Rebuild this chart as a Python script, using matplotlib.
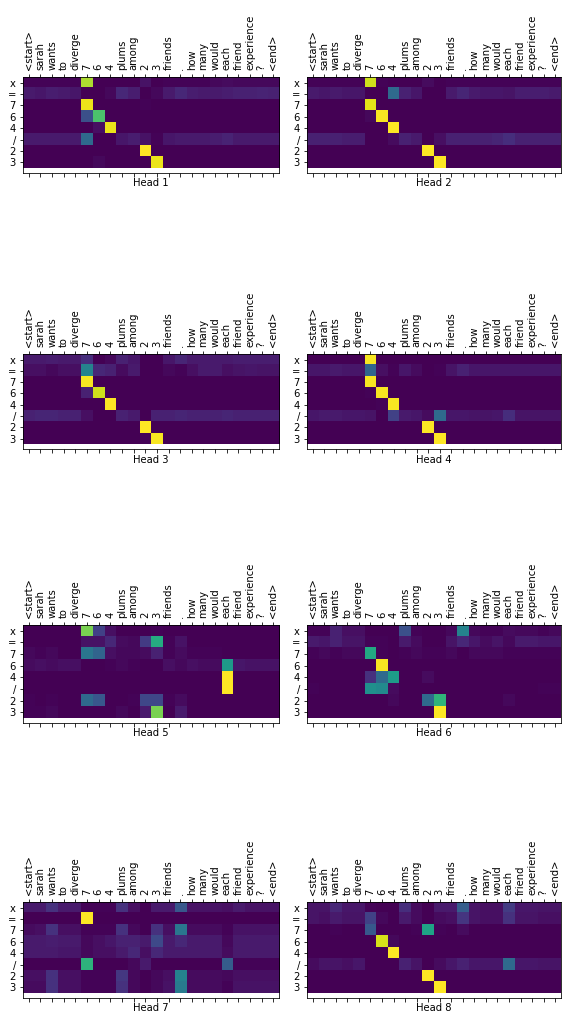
import numpy as np
import matplotlib
matplotlib.use("Agg")
import matplotlib.pyplot as plt

# input tokens (columns) and predicted tokens (rows)
sentence = ['<start>', 'sarah', 'wants', 'to', 'diverge', '7', '6', '4', 'plums', 'among',
            '2', '3', 'friends', '.', 'how', 'many', 'would', 'each', 'friend',
            'experience', '?', '<end>']
predicted = ['x', '=', '7', '6', '4', '/', '2', '3']

# attention weights per head, in percent (rows = predicted, cols = sentence)
head1 = [
    [2, 2, 2, 2, 2, 88, 1, 1, 1, 1, 6, 1, 2, 2, 2, 2, 3, 4, 3, 3, 3, 3],
    [8, 7, 9, 8, 7, 1, 1, 3, 12, 9, 1, 3, 8, 12, 9, 8, 8, 9, 10, 10, 11, 10],
    [1, 1, 1, 1, 1, 97, 1, 1, 1, 1, 2, 1, 1, 1, 1, 1, 1, 1, 1, 1, 1, 1],
    [1, 1, 1, 1, 1, 25, 72, 1, 1, 1, 1, 1, 1, 1, 1, 1, 1, 1, 1, 1, 1, 1],
    [1, 1, 1, 1, 1, 1, 5, 97, 1, 1, 1, 1, 1, 1, 1, 1, 1, 1, 1, 1, 1, 1],
    [8, 8, 8, 8, 8, 35, 1, 1, 7, 9, 6, 2, 7, 8, 8, 8, 9, 11, 8, 8, 8, 8],
    [1, 1, 1, 1, 1, 1, 1, 1, 1, 1, 100, 1, 1, 1, 1, 1, 1, 1, 1, 1, 1, 1],
    [1, 1, 1, 1, 1, 1, 3, 1, 1, 1, 1, 97, 1, 1, 1, 1, 1, 1, 1, 1, 1, 1],
]
head2 = [
    [2, 2, 2, 2, 2, 92, 2, 1, 1, 1, 4, 1, 2, 2, 2, 2, 2, 2, 2, 2, 2, 2],
    [8, 7, 8, 7, 7, 1, 1, 35, 10, 7, 1, 1, 8, 11, 8, 7, 7, 6, 9, 9, 9, 8],
    [1, 1, 1, 1, 1, 95, 1, 1, 1, 1, 1, 1, 1, 1, 1, 1, 1, 1, 1, 1, 1, 1],
    [1, 1, 1, 1, 1, 3, 98, 1, 1, 1, 1, 1, 1, 1, 1, 1, 1, 1, 1, 1, 1, 1],
    [1, 1, 1, 1, 1, 1, 1, 99, 1, 1, 1, 1, 1, 1, 1, 1, 1, 1, 1, 1, 1, 1],
    [10, 10, 10, 9, 9, 1, 1, 4, 10, 8, 1, 5, 10, 10, 10, 10, 11, 14, 10, 10, 10, 10],
    [1, 1, 1, 1, 1, 1, 1, 1, 1, 1, 99, 1, 1, 1, 1, 1, 1, 1, 1, 1, 1, 1],
    [1, 1, 1, 1, 1, 1, 1, 1, 1, 1, 1, 99, 1, 1, 1, 1, 1, 1, 1, 1, 1, 1],
]
head3 = [
    [8, 8, 9, 8, 8, 14, 1, 3, 10, 7, 1, 1, 7, 11, 8, 8, 8, 8, 9, 9, 9, 9],
    [5, 5, 3, 5, 5, 45, 12, 10, 4, 8, 1, 1, 3, 2, 5, 8, 8, 5, 6, 7, 6, 6],
    [1, 1, 1, 1, 1, 98, 1, 1, 1, 1, 1, 1, 1, 1, 1, 1, 1, 1, 1, 1, 1, 1],
    [1, 1, 1, 1, 1, 10, 92, 1, 1, 1, 1, 1, 1, 1, 1, 1, 1, 1, 1, 1, 1, 1],
    [1, 1, 1, 1, 1, 1, 1, 99, 1, 1, 1, 1, 1, 1, 1, 1, 1, 1, 1, 1, 1, 1],
    [10, 11, 11, 10, 10, 5, 1, 1, 10, 8, 1, 10, 10, 11, 10, 10, 10, 11, 10, 10, 10, 10],
    [1, 1, 1, 1, 1, 1, 1, 1, 1, 1, 99, 1, 1, 1, 1, 1, 1, 1, 1, 1, 1, 1],
    [1, 1, 1, 1, 1, 1, 1, 1, 1, 1, 2, 98, 1, 1, 1, 1, 1, 1, 1, 1, 1, 1],
]
head4 = [
    [1, 1, 1, 1, 1, 98, 1, 1, 1, 1, 1, 1, 1, 1, 1, 1, 1, 1, 1, 1, 1, 1],
    [7, 7, 8, 7, 7, 33, 5, 2, 7, 4, 1, 2, 6, 10, 7, 7, 7, 7, 7, 7, 7, 7],
    [1, 1, 1, 1, 1, 98, 1, 1, 1, 1, 1, 1, 1, 1, 1, 1, 1, 1, 1, 1, 1, 1],
    [1, 1, 1, 1, 1, 2, 98, 1, 1, 1, 1, 1, 1, 1, 1, 1, 1, 1, 1, 1, 1, 1],
    [1, 1, 1, 1, 1, 1, 2, 98, 1, 1, 1, 1, 1, 1, 1, 1, 1, 1, 1, 1, 1, 1],
    [7, 8, 8, 7, 7, 6, 1, 20, 8, 7, 4, 35, 7, 7, 6, 6, 7, 14, 6, 6, 6, 6],
    [1, 1, 1, 1, 1, 1, 1, 1, 1, 1, 99, 1, 1, 1, 1, 1, 1, 1, 1, 1, 1, 1],
    [1, 1, 1, 1, 1, 1, 1, 1, 1, 1, 1, 99, 1, 1, 1, 1, 1, 1, 1, 1, 1, 1],
]
head5 = [
    [1, 1, 1, 1, 1, 80, 20, 5, 1, 1, 1, 2, 1, 1, 1, 1, 1, 1, 1, 1, 1, 1],
    [1, 1, 1, 1, 1, 6, 6, 12, 4, 3, 18, 62, 2, 6, 1, 1, 1, 1, 1, 1, 1, 1],
    [3, 2, 3, 1, 1, 40, 33, 5, 3, 3, 4, 10, 2, 4, 2, 2, 2, 1, 1, 1, 1, 1],
    [4, 5, 4, 5, 5, 1, 1, 2, 3, 2, 1, 1, 5, 3, 5, 4, 4, 55, 7, 6, 6, 6],
    [1, 1, 1, 1, 1, 1, 1, 1, 1, 1, 1, 1, 1, 1, 1, 1, 1, 100, 1, 1, 1, 1],
    [1, 1, 1, 1, 1, 1, 1, 1, 1, 1, 1, 1, 1, 1, 1, 1, 1, 100, 1, 1, 1, 1],
    [2, 1, 2, 1, 1, 35, 28, 1, 1, 2, 22, 22, 2, 4, 1, 1, 1, 1, 1, 1, 1, 1],
    [2, 2, 3, 1, 1, 1, 1, 1, 3, 1, 8, 80, 1, 8, 1, 1, 1, 1, 1, 1, 1, 1],
]
head6 = [
    [2, 2, 10, 5, 5, 1, 1, 1, 25, 2, 1, 1, 3, 45, 3, 2, 2, 4, 3, 3, 2, 3],
    [8, 7, 10, 6, 6, 2, 2, 1, 8, 4, 1, 1, 6, 12, 7, 4, 6, 3, 8, 8, 7, 7],
    [2, 3, 2, 3, 3, 60, 2, 1, 2, 3, 2, 2, 3, 1, 3, 3, 3, 2, 2, 2, 2, 2],
    [1, 1, 1, 1, 1, 1, 98, 1, 1, 1, 1, 1, 1, 1, 1, 1, 1, 1, 1, 1, 1, 1],
    [1, 1, 1, 1, 1, 15, 35, 55, 1, 1, 4, 1, 1, 1, 1, 1, 1, 1, 1, 1, 1, 1],
    [2, 1, 1, 1, 1, 50, 48, 4, 1, 1, 1, 1, 1, 1, 1, 1, 1, 1, 1, 1, 2, 2],
    [1, 1, 1, 1, 1, 1, 1, 3, 1, 1, 35, 65, 1, 1, 1, 1, 1, 3, 1, 1, 1, 1],
    [1, 1, 1, 1, 1, 1, 1, 1, 1, 1, 1, 99, 1, 1, 1, 1, 1, 1, 1, 1, 1, 1],
]
head7 = [
    [8, 8, 15, 8, 8, 2, 2, 2, 15, 5, 1, 8, 8, 28, 6, 6, 6, 5, 8, 6, 6, 6],
    [1, 1, 1, 1, 1, 100, 1, 1, 1, 1, 1, 1, 1, 1, 1, 1, 1, 1, 1, 1, 1, 1],
    [4, 5, 15, 5, 5, 2, 2, 2, 15, 3, 1, 15, 5, 40, 4, 4, 4, 2, 6, 6, 6, 6],
    [8, 8, 9, 8, 8, 3, 5, 7, 10, 10, 8, 23, 8, 12, 8, 8, 8, 3, 8, 8, 8, 8],
    [8, 8, 8, 7, 7, 3, 5, 5, 8, 12, 5, 12, 8, 8, 8, 8, 8, 4, 8, 8, 8, 8],
    [1, 1, 1, 1, 1, 65, 1, 1, 1, 3, 8, 1, 1, 1, 1, 1, 1, 30, 2, 2, 2, 2],
    [5, 5, 15, 5, 5, 2, 2, 2, 17, 3, 1, 3, 5, 45, 4, 4, 4, 3, 5, 5, 5, 5],
    [4, 4, 15, 5, 5, 2, 2, 2, 15, 3, 1, 3, 6, 42, 4, 4, 4, 2, 6, 6, 6, 6],
]
head8 = [
    [6, 6, 12, 7, 7, 2, 1, 1, 14, 4, 1, 8, 8, 30, 6, 5, 5, 18, 7, 7, 6, 6],
    [6, 5, 8, 6, 6, 20, 3, 1, 8, 4, 1, 4, 5, 16, 6, 5, 5, 15, 6, 6, 5, 5],
    [1, 1, 2, 1, 1, 28, 1, 1, 1, 2, 58, 2, 1, 4, 1, 1, 1, 1, 1, 1, 1, 1],
    [1, 1, 1, 1, 1, 1, 93, 3, 1, 1, 1, 1, 1, 1, 1, 1, 1, 1, 1, 1, 1, 1],
    [1, 1, 1, 1, 1, 1, 1, 99, 1, 1, 1, 1, 1, 1, 1, 1, 1, 1, 1, 1, 1, 1],
    [4, 6, 6, 5, 7, 1, 1, 1, 10, 6, 1, 4, 7, 10, 7, 7, 7, 35, 7, 7, 6, 6],
    [1, 1, 1, 1, 1, 1, 1, 1, 1, 1, 99, 1, 1, 1, 1, 1, 1, 1, 1, 1, 1, 1],
    [1, 1, 1, 1, 1, 1, 1, 1, 1, 1, 1, 99, 1, 1, 1, 1, 1, 1, 1, 1, 1, 1],
]
heads = [head1, head2, head3, head4, head5, head6, head7, head8]

# reference was rendered at 72 dpi
fig = plt.figure(figsize=(568 / 72, 1020 / 72), dpi=72)

# axes boxes in figure fractions (left, bottom, width, height)
lefts = [0.0405, 0.5405]
widths = [0.451, 0.447]
bottoms = [0.8304, 0.5598, 0.2912, 0.0216]
heights = [0.0941, 0.0931, 0.0961, 0.0941]

for k, att in enumerate(heads):
    r, c = divmod(k, 2)
    ax = fig.add_axes([lefts[c], bottoms[r], widths[c], heights[r]])
    ax.matshow(np.array(att) / 100.0, cmap='viridis', aspect='auto')
    ax.set_xticks(range(len(sentence)))
    ax.set_xticklabels(sentence, rotation=90)
    ax.set_yticks(range(len(predicted)))
    ax.set_yticklabels(predicted)
    ax.set_ylim(7.93, -0.5)
    ax.set_xlabel('Head %d' % (k + 1), labelpad=2)

fig.savefig('out.png', dpi=72)
